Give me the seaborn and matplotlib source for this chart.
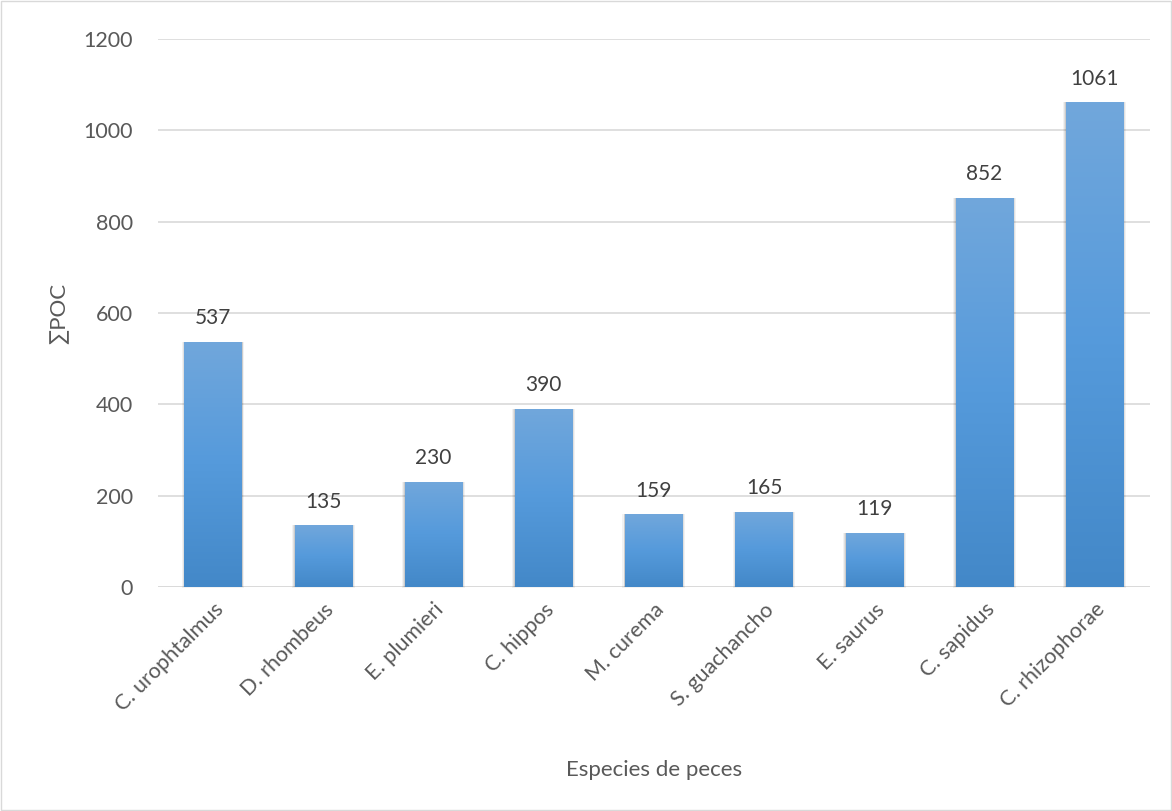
import numpy as np
import pandas as pd
import matplotlib
matplotlib.use("Agg")
import matplotlib.pyplot as plt
import seaborn as sns
from matplotlib.colors import LinearSegmentedColormap
from matplotlib.patches import Rectangle

especies = ["C. urophtalmus", "D. rhombeus", "E. plumieri", "C. hippos", "M. curema",
            "S. guachancho", "E. saurus", "C. sapidus", "C. rhizophorae"]
poc = [537, 135, 230, 390, 159, 165, 119, 852, 1061]
y_ticks = [0, 200, 400, 600, 800, 1000, 1200]

df = pd.DataFrame({"especie": especies, "poc": poc})

sns.set_theme(style="white")
plt.rcParams["font.family"] = ["Lato", "DejaVu Sans"]

fig = plt.figure(figsize=(11.72, 8.11), dpi=100)
ax = fig.add_axes([0.1348, 0.2762, 0.8462, 0.6757])

sns.barplot(data=df, x="especie", y="poc", ax=ax, width=0.52, color="#5B9BD5",
            edgecolor="none", zorder=3)

ax.set_ylim(0, 1200)
ax.set_xlim(-0.5, len(especies) - 0.5)
ax.set_yticks(y_ticks)
ax.yaxis.grid(True, color="#D9D9D9", linewidth=1.2, zorder=0)
for s in ax.spines.values():
    s.set_visible(False)
ax.axhline(0, color="#D9D9D9", linewidth=1.2, zorder=2)

# vertical gradient fill for each bar, plus a soft shadow around it
cmap = LinearSegmentedColormap.from_list("barfill", ["#4388C8", "#559ADB", "#71A7DC"])
grad = np.linspace(0, 1, 256).reshape(-1, 1)
for p in list(ax.patches):
    x0, y0 = p.get_x(), p.get_y()
    w, h = p.get_width(), p.get_height()
    for k, a in [(0.025, 0.05), (0.015, 0.07), (0.007, 0.09)]:
        ax.add_patch(Rectangle((x0 - k, y0 - k * 60), w + 2 * k, h + k * 60,
                               facecolor="black", alpha=a, edgecolor="none",
                               zorder=2.5, clip_on=False))
    im = ax.imshow(grad, cmap=cmap, aspect="auto", origin="lower",
                   extent=(x0, x0 + w, y0, y0 + h), zorder=3.5)
    im.set_clip_path(p)
    p.set_facecolor("none")

for i, v in enumerate(poc):
    ax.text(i, v + 30, f"{v}", ha="center", va="bottom", fontsize=15, color="#404040",
            zorder=5)

ax.tick_params(axis="both", length=0, labelsize=15.5, colors="#595959")
ax.tick_params(axis="y", pad=18)
ax.set_xticks(range(len(especies)))
ax.set_xticklabels(especies, rotation=45, ha="right", rotation_mode="anchor")
ax.tick_params(axis="x", pad=9)

ax.set_xlabel("Especies de peces", fontsize=16, color="#595959", labelpad=32)
ax.set_ylabel("\u2211POC", fontsize=16, color="#595959", labelpad=10)

fig.patches.append(Rectangle((0.001, 0.001), 0.998, 0.998, transform=fig.transFigure,
                             fill=False, edgecolor="#D9D9D9", linewidth=1))

fig.savefig("out.png", dpi=100, facecolor="white")
